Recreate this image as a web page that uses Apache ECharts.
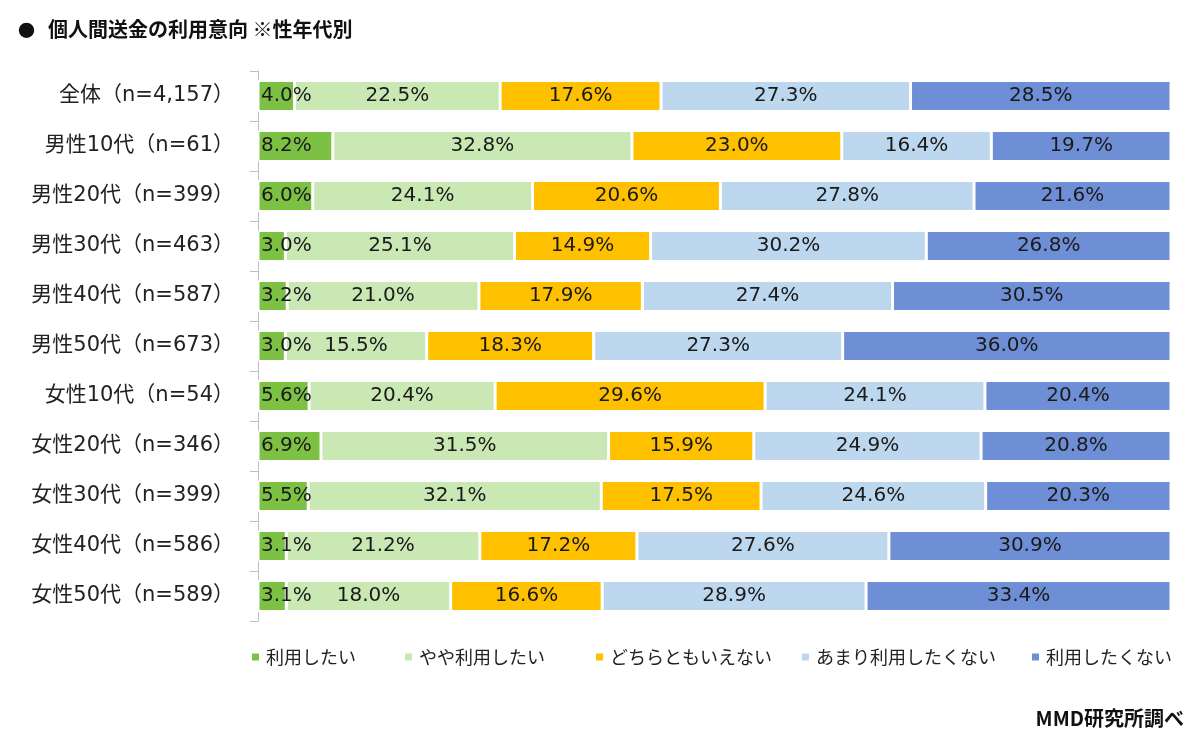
<!DOCTYPE html>
<html><head><meta charset="utf-8">
<script src="https://cdn.jsdelivr.net/npm/echarts@6/dist/echarts.min.js"></script>
<style>html,body{margin:0;padding:0;background:#fff}#c{width:1200px;height:737px}</style>
</head><body><div id="c"></div>
<script>
const categories = ['全体（n=4,157）','男性10代（n=61）','男性20代（n=399）','男性30代（n=463）','男性40代（n=587）','男性50代（n=673）','女性10代（n=54）','女性20代（n=346）','女性30代（n=399）','女性40代（n=586）','女性50代（n=589）'];
const seriesNames = ['利用したい','やや利用したい','どちらともいえない','あまり利用したくない','利用したくない'];
const s1 = [4.0, 8.2, 6.0, 3.0, 3.2, 3.0, 5.6, 6.9, 5.5, 3.1, 3.1];
const s2 = [22.5, 32.8, 24.1, 25.1, 21.0, 15.5, 20.4, 31.5, 32.1, 21.2, 18.0];
const s3 = [17.6, 23.0, 20.6, 14.9, 17.9, 18.3, 29.6, 15.9, 17.5, 17.2, 16.6];
const s4 = [27.3, 16.4, 27.8, 30.2, 27.4, 27.3, 24.1, 24.9, 24.6, 27.6, 28.9];
const s5 = [28.5, 19.7, 21.6, 26.8, 30.5, 36.0, 20.4, 20.8, 20.3, 30.9, 33.4];
const colors = ['#7CC144','#C9E8B4','#FFC000','#BDD7EE','#6E8FD5'];
const legendLeft = [245, 398, 589, 795, 1025];
const all = [s1,s2,s3,s4,s5];
const sums = categories.map((c,i)=>all.reduce((a,s)=>a+s[i],0));
const LAT = '"DejaVu Sans", "Noto Sans CJK JP", sans-serif';
const CJK = '"Noto Sans CJK JP", sans-serif';
const chart = echarts.init(document.getElementById('c'));
chart.setOption({
  animation:false,
  title:[
    {text:'●', left:13, top:17, textStyle:{fontSize:17, fontWeight:'bold', color:'#111', fontFamily:CJK}},
    {text:'個人間送金の利用意向 ※性年代別', left:43, top:14, textStyle:{fontSize:20, fontWeight:'bold', color:'#111', fontFamily:CJK}},
    {text:'MMD研究所調べ', right:11, top:703, textStyle:{fontSize:20, fontWeight:'bold', color:'#111', fontFamily:CJK}}
  ],
  legend: seriesNames.map((n,k)=>({
    data:[n], left:legendLeft[k], top:643, itemWidth:9, itemHeight:9, itemGap:0, icon:'rect',
    selectedMode:false,
    textStyle:{fontSize:18, color:'#222', fontFamily:CJK, padding:[0,0,0,1]}
  })),
  grid:{left:258, right:29, top:71, bottom:116},
  xAxis:{type:'value', min:0, max:100, show:false},
  yAxis:{type:'category', data:categories, inverse:true,
    axisLine:{lineStyle:{color:'#bfbfbf', width:1}},
    axisTick:{show:true, length:8, lineStyle:{color:'#bfbfbf'}},
    axisLabel:{fontSize:21, color:'#222', margin:24, fontFamily:LAT}
  },
  series: all.map((s,k)=>({
    name:seriesNames[k], type:'bar', stack:'t', barWidth:31,
    itemStyle:{color:colors[k], borderColor:'#fff', borderWidth:1.5},
    label:{show:true, position: k===0 ? 'insideLeft' : 'inside', distance:3,
      fontSize:20, color:'#1a1a1a', fontFamily:LAT,
      formatter:p=>s[p.dataIndex].toFixed(1)+'%'},
    labelLayout:{hideOverlap:false},
    data:s.map((v,i)=>v/sums[i]*100)
  }))
});
</script></body></html>
